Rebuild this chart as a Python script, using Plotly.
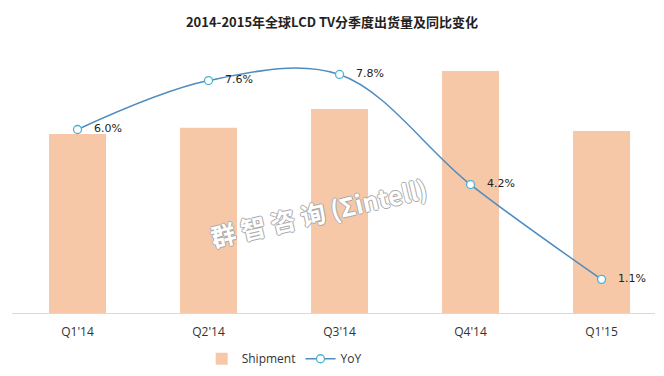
import plotly.graph_objects as go

quarters = ["Q1'14", "Q2'14", "Q3'14", "Q4'14", "Q1'15"]
shipment = [44.4, 45.9, 50.6, 60.0, 45.1]
yoy = [6.0, 7.6, 7.8, 4.2, 1.1]
yoy_labels = ["   6.0%", "   7.6%", "   7.8%", "   4.2%", "   1.1%"]

fig = go.Figure()
fig.add_trace(go.Bar(
    x=quarters, y=shipment, name="Shipment",
    marker=dict(color="#f6c8a7", line=dict(width=0)),
    width=0.435,
))
fig.add_trace(go.Scatter(
    x=quarters, y=yoy, name="YoY", yaxis="y2",
    mode="lines+markers+text",
    line=dict(color="#4f8cbf", width=1.5, shape="spline", smoothing=1.0),
    marker=dict(symbol="circle", size=8, color="white",
                line=dict(color="#4cb3cf", width=1.3)),
    text=yoy_labels, textposition="middle right",
    textfont=dict(family="DejaVu Sans", size=11, color="#222222"),
    cliponaxis=False,
))

fig.update_layout(
    width=664, height=376,
    margin=dict(l=12, r=9, t=50, b=63, autoexpand=False),
    paper_bgcolor="white", plot_bgcolor="white",
    title=dict(text="<b>2014-2015年全球LCD TV分季度出货量及同比变化</b>",
               x=0.5, xanchor="center", y=0.94, yanchor="middle",
               font=dict(family="Noto Sans CJK SC", size=13, color="#222222")),
    xaxis=dict(type="category", range=[-0.5, 4.408],
               showline=True, linecolor="#d9d9d9", linewidth=1,
               showgrid=False, ticks="", zeroline=False, ticklabelstandoff=8,
               tickfont=dict(family="Open Sans", size=12, color="#333333")),
    yaxis=dict(range=[0, 65.2], visible=False, showgrid=False, zeroline=False),
    yaxis2=dict(range=[0, 8.6], overlaying="y", side="right", visible=False,
                showgrid=False, zeroline=False),
    legend=dict(orientation="h", x=0.295, xanchor="left", y=-0.174, yanchor="middle",
                font=dict(family="Liberation Sans Narrow, Open Sans", size=12, color="#333333"),
                itemwidth=30, tracegroupgap=0),
    showlegend=True,
)

fig.add_annotation(
    text="<b>群 智 咨 询 (Σintell)</b>", xref="paper", yref="paper",
    x=0.476, y=0.384, showarrow=False, textangle=-13,
    font=dict(family="Noto Sans CJK SC", size=25, color="white",
              shadow="1px 0 0 #aaa, -1px 0 0 #aaa, 0 1px 0 #aaa, 0 -1px 0 #aaa"),
)

fig.write_html("out.html", config={"displayModeBar": False},
               post_script="document.body.style.margin='0';")
